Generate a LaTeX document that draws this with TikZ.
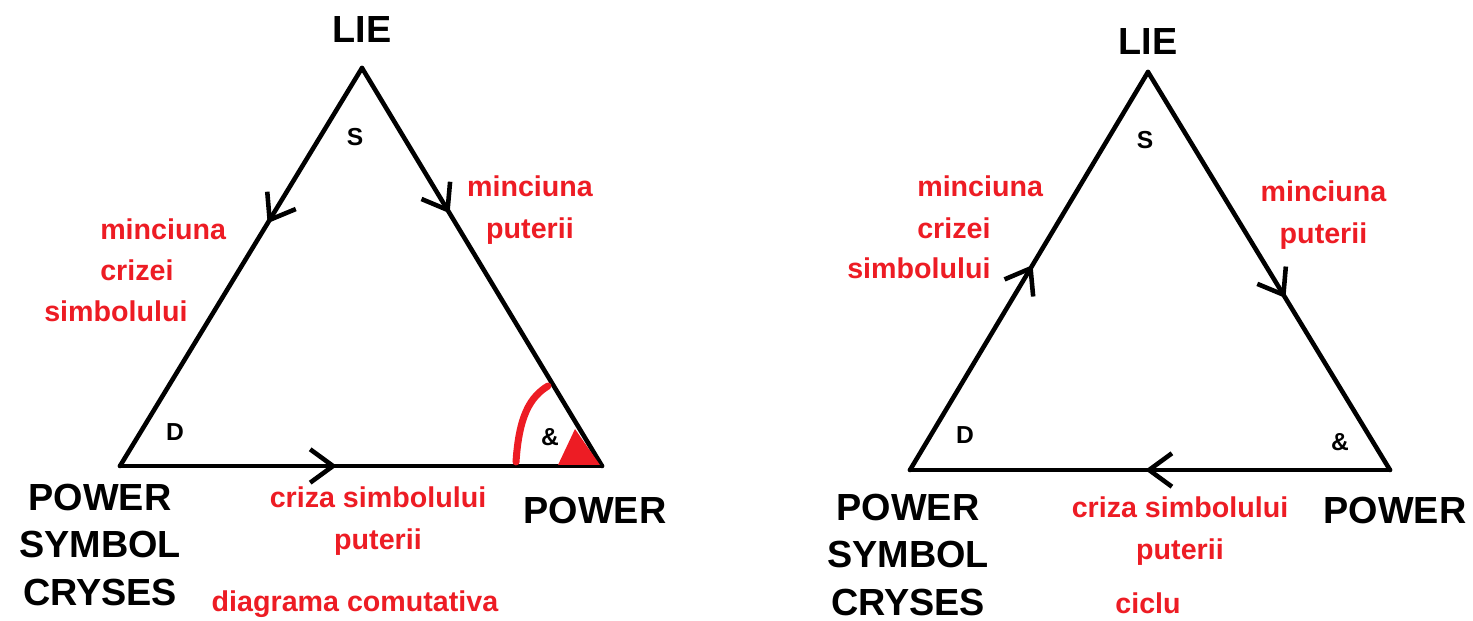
\documentclass[tikz,border=0pt]{standalone}
\usepackage{fontspec}
\setmainfont{Liberation Sans}
\usepackage{tikz}
\usetikzlibrary{arrows.meta,decorations.markings}
\definecolor{pred}{RGB}{237,28,36}

\begin{document}
\begin{tikzpicture}[line width=2.6pt,line cap=round,
  big node/.style={font=\bfseries\fontsize{21.5}{27}\selectfont,align=center,inner sep=0pt},
  corner node/.style={font=\bfseries\fontsize{14}{16}\selectfont},
  red node/.style={text=pred,font=\bfseries\fontsize{16.3}{23.5}\selectfont,align=center,inner sep=0pt},
  red line/.style={red node,anchor=west},
  mid arrow/.style={postaction={decorate,decoration={markings,
    mark=at position #1 with {\arrow{Straight Barb[length=13pt,width=19pt]}}}}}]
  \useasboundingbox (0,0) rectangle (29.46,12.42);

  % diagrama comutativa
  \coordinate (a1) at (7.24,11.06);
  \coordinate (b1) at (2.40,3.10);
  \coordinate (c1) at (12.04,3.10);
  \path (a1) edge[mid arrow=0.39] (b1)
        (a1) edge[mid arrow=0.365] (c1)
        (b1) edge[mid arrow=0.45] (c1);

  \node[big node] (lie1) at (7.24,11.82) {LIE};
  \node[corner node] (s1) at (7.10,9.68) {S};
  \node[corner node] (d1) at (3.50,3.78) {D};
  \node[corner node] (and1) at (11.00,3.68) {\&};
  \node[big node] (power1) at (11.90,2.20) {POWER};
  \node[big node] (psc1) at (2.00,1.52) {POWER\\SYMBOL\\CRYSES};
  \node[red line] (mc1) at (1.96,7.84) {minciuna};
  \node[red line] (cr1) at (1.96,7.02) {crizei};
  \node[red line] (sb1) at (0.84,6.20) {simbolului};
  \node[red node] (mp1) at (10.60,8.22) {minciuna\\puterii};
  \node[red node] (csp1) at (7.56,2.00) {criza simbolului\\puterii};
  \node[red node] (dc) at (7.10,0.34) {diagrama comutativa};

  \draw[pred,line width=4pt] (10.32,3.18) .. controls (10.38,4.10) and (10.60,4.48) .. (10.96,4.70);
  \fill[pred] (11.16,3.12) -- (11.50,3.84) -- (12.00,3.12) -- cycle;

  % ciclu
  \coordinate (a2) at (22.96,10.98);
  \coordinate (b2) at (18.20,3.02);
  \coordinate (c2) at (27.80,3.02);
  \path (b2) edge[mid arrow=0.515] (a2)
        (a2) edge[mid arrow=0.568] (c2)
        (c2) edge[mid arrow=0.51] (b2);

  \node[big node] (lie2) at (22.96,11.58) {LIE};
  \node[corner node] (s2) at (22.90,9.62) {S};
  \node[corner node] (d2) at (19.30,3.72) {D};
  \node[corner node] (and2) at (26.80,3.58) {\&};
  \node[big node] (power2) at (27.90,2.20) {POWER};
  \node[big node] (psc2) at (18.16,1.32) {POWER\\SYMBOL\\CRYSES};
  \node[red line] (mc2) at (18.30,8.70) {minciuna};
  \node[red line] (cr2) at (18.30,7.86) {crizei};
  \node[red line] (sb2) at (16.90,7.06) {simbolului};
  \node[red node] (mp2) at (26.47,8.12) {minciuna\\puterii};
  \node[red node] (csp2) at (23.60,1.80) {criza simbolului\\puterii};
  \node[red node] (ciclu) at (22.96,0.36) {ciclu};
\end{tikzpicture}
\end{document}
